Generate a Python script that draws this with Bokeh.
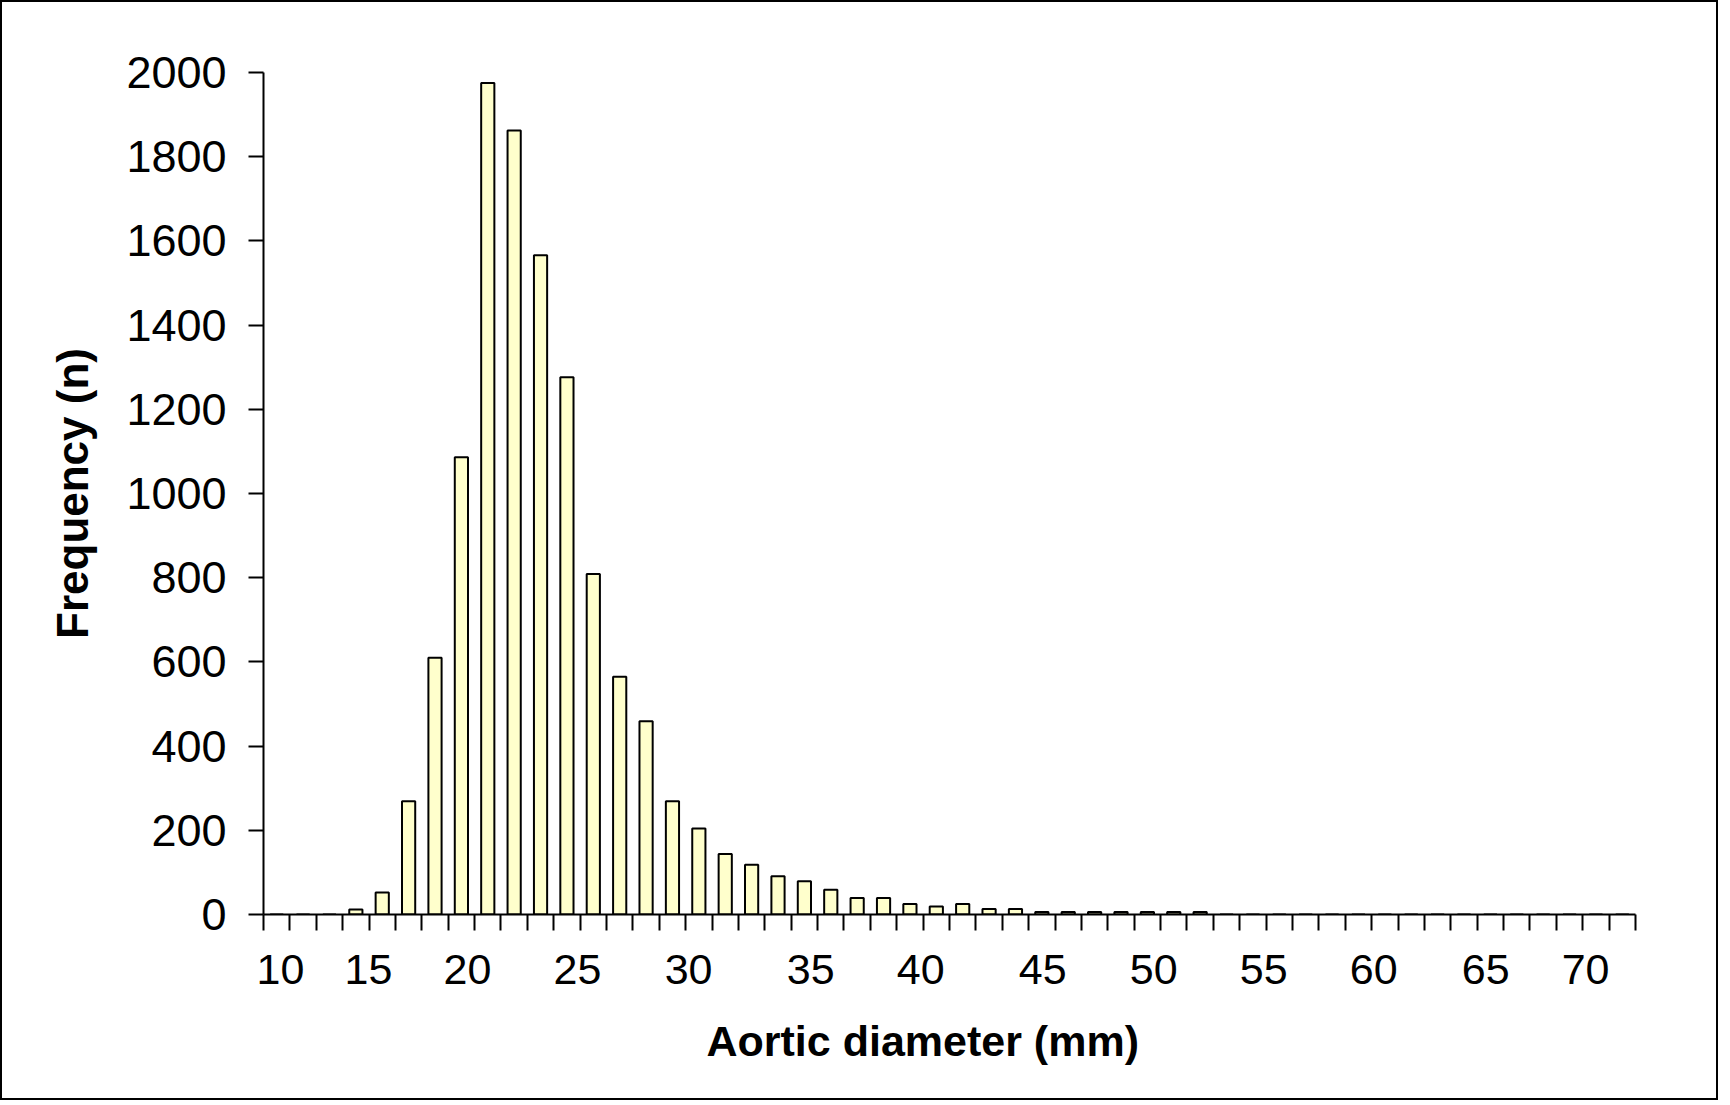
from bokeh.plotting import figure
from bokeh.models import Range1d, FixedTicker, Title
from bokeh.embed import file_html
from bokeh.resources import INLINE

# ---- data: frequency per aortic-diameter category (52 categories on the axis) ----
frequency = [0, 0, 0, 12, 52, 269, 610, 1086, 1975, 1862,
             1566, 1276, 809, 565, 459, 269, 204, 144, 118, 91,
             79, 59, 39, 39, 25, 19, 25, 13, 13, 6,
             6, 6, 6, 6, 6, 6, 0, 0, 0, 0,
             0, 0, 0, 0, 0, 0, 0, 0, 0, 0,
             0, 0]
x_tick_labels = ["10", "15", "20", "25", "30", "35", "40", "45", "50", "55", "60", "65", "70"]
y_ticks = [0, 200, 400, 600, 800, 1000, 1200, 1400, 1600, 1800, 2000]

# ---- axis configuration (positions of the x labels along the category axis) ----
x_tick_pos = [0.64, 3.98, 7.73, 11.90, 16.11, 20.74, 24.91, 29.53, 33.74, 37.91, 42.08, 46.32, 50.11]

n_cat = len(frequency)
centers = [i + 0.5 for i in range(n_cat)]

FONT = "Liberation Sans"

p = figure(width=1718, height=1100, output_backend="svg", toolbar_location=None,
           x_range=Range1d(0, n_cat), y_range=Range1d(0, 2000),
           min_border_left=261, min_border_right=85, min_border_top=70, min_border_bottom=188,
           background_fill_color="white", border_fill_color="white",
           styles={"border": "2px solid black"})
p.outline_line_color = None
p.xgrid.visible = False
p.ygrid.visible = False

p.vbar(x=centers, top=frequency, width=0.5, bottom=0,
       fill_color="#FFFFCC", line_color="black", line_width=2)

# x axis
xa = p.xaxis[0]
xa.ticker = FixedTicker(ticks=x_tick_pos, minor_ticks=list(range(0, n_cat + 1)))
xa.major_label_overrides = {t: l for t, l in zip(x_tick_pos, x_tick_labels)}
xa.major_tick_in = 0
xa.major_tick_out = 0
xa.minor_tick_in = 0
xa.minor_tick_out = 16
xa.minor_tick_line_width = 2
xa.minor_tick_line_color = "black"
xa.axis_line_width = 2
xa.axis_line_color = "black"
xa.major_label_text_font = FONT
xa.major_label_text_font_size = "43px"
xa.major_label_text_color = "black"
xa.major_label_standoff = 24

# x axis title, placed slightly left of centre as in the original
p.add_layout(Title(text="Aortic diameter (mm)", align="left", offset=443, standoff=56,
                   text_font=FONT, text_font_style="bold", text_font_size="43px",
                   text_color="black"), "below")

# y axis
ya = p.yaxis[0]
ya.ticker = FixedTicker(ticks=y_ticks)
ya.major_tick_in = 0
ya.major_tick_out = 15
ya.major_tick_line_width = 2
ya.minor_tick_line_color = None
ya.axis_line_width = 2
ya.axis_line_color = "black"
ya.major_label_text_font = FONT
ya.major_label_text_font_size = "45px"
ya.major_label_text_color = "black"
ya.major_label_standoff = 22
ya.axis_label = "Frequency (n)"
ya.axis_label_text_font = FONT
ya.axis_label_text_font_style = "bold"
ya.axis_label_text_font_size = "44px"
ya.axis_label_text_color = "black"
ya.axis_label_standoff = 26

open("out.html", "w").write(file_html(p, INLINE))
